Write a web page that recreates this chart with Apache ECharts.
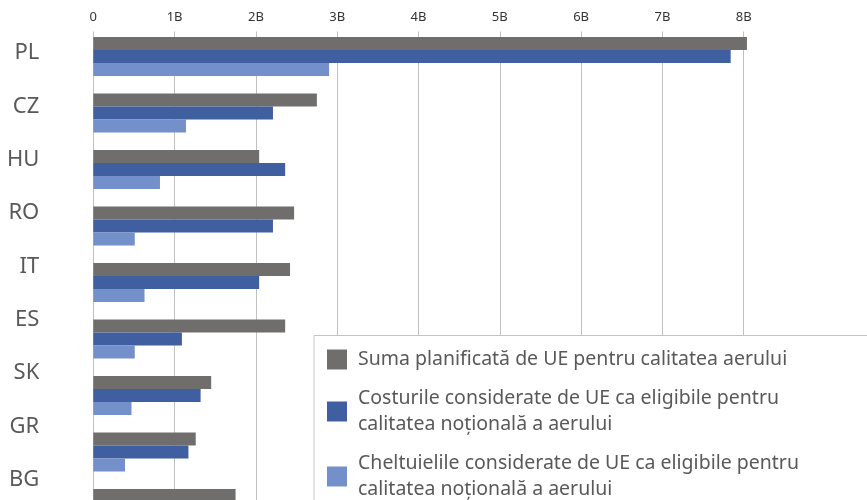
<!DOCTYPE html>
<html>
<head>
<meta charset="utf-8">
<script src="https://cdn.jsdelivr.net/npm/echarts@6/dist/echarts.min.js"></script>
<style>
html, body { margin: 0; padding: 0; background: #fff; }
#chart { width: 867px; height: 500px; }
</style>
</head>
<body>
<div id="chart"></div>
<script>
var countries = ['PL', 'CZ', 'HU', 'RO', 'IT', 'ES', 'SK', 'GR', 'BG'];
var plannedEU = [8.04, 2.75, 2.04, 2.47, 2.42, 2.36, 1.45, 1.26, 1.75];
var eligibleCosts = [7.84, 2.21, 2.36, 2.21, 2.04, 1.09, 1.32, 1.17, 1.30];
var eligibleSpent = [2.90, 1.14, 0.82, 0.51, 0.63, 0.51, 0.47, 0.39, 0.45];
var tickLabels = ['0', '1B', '2B', '3B', '4B', '5B', '6B', '7B', '8B'];
var seriesNames = [
  'Suma planificată de UE pentru calitatea aerului',
  'Costurile considerate de UE ca eligibile pentru\ncalitatea noțională a aerului',
  'Cheltuielile considerate de UE ca eligibile pentru\ncalitatea noțională a aerului'
];
var colors = ['#6f6e6c', '#405fa0', '#7490cb'];

var FONT = 'Noto Sans';
var AXIS_MAX = 8.16;
var plotLeft = 93.3;
var plotWidth = 663.4;

var myChart = echarts.init(document.getElementById('chart'));

var option = {
  animation: false,
  color: colors,
  textStyle: { fontFamily: FONT },
  grid: [
    // bars
    { left: plotLeft, top: 28.25, width: plotWidth, height: 56.5 * countries.length, outerBoundsMode: 'none' },
    // axis frame
    { left: plotLeft, top: 31.5, width: plotWidth, height: 600, outerBoundsMode: 'none' },
    // category labels (spaced a little tighter than the bars, as in the source)
    { left: plotLeft, top: 26.5, width: plotWidth, height: 53.3 * countries.length, outerBoundsMode: 'none' }
  ],
  xAxis: [
    { gridIndex: 0, type: 'value', min: 0, max: AXIS_MAX, show: false },
    {
      gridIndex: 1, type: 'value', position: 'top', min: 0, max: AXIS_MAX, interval: 1,
      axisLine: { show: true, lineStyle: { color: '#bfbfbf', width: 1 } },
      axisTick: { show: false },
      axisLabel: {
        margin: 8, color: '#333', fontSize: 13, fontFamily: FONT,
        showMaxLabel: false,
        formatter: function (v) { return tickLabels[v] || ''; }
      },
      splitLine: { show: true, showMinLine: true, showMaxLine: false, lineStyle: { color: '#c0c0c0', width: 1 } }
    },
    { gridIndex: 2, type: 'value', min: 0, max: 1, show: false }
  ],
  yAxis: [
    {
      gridIndex: 0, type: 'category', inverse: true, data: countries,
      axisLine: { show: false }, axisTick: { show: false }, axisLabel: { show: false }
    },
    { gridIndex: 1, type: 'value', min: 0, max: 1, show: false },
    {
      gridIndex: 2, type: 'category', inverse: true, data: countries,
      axisLine: { show: false }, axisTick: { show: false },
      axisLabel: { margin: 54, color: '#595959', fontSize: 22, fontFamily: FONT }
    }
  ],
  legend: {
    orient: 'vertical',
    left: 314,
    top: 335.5,
    height: 300,
    padding: [11, 140, 40, 13],
    itemGap: 13,
    itemWidth: 20,
    itemHeight: 20,
    icon: 'rect',
    selectedMode: false,
    backgroundColor: '#fff',
    borderColor: '#c4c4c4',
    borderWidth: 1,
    z: 10,
    textStyle: { color: '#595959', fontSize: 19.5, lineHeight: 26, fontFamily: FONT, padding: [0, 0, 0, 6] },
    data: seriesNames
  },
  series: [
    { name: seriesNames[0], type: 'bar', xAxisIndex: 0, yAxisIndex: 0, barWidth: 13, barGap: '0%', data: plannedEU },
    { name: seriesNames[1], type: 'bar', xAxisIndex: 0, yAxisIndex: 0, barWidth: 13, barGap: '0%', data: eligibleCosts },
    { name: seriesNames[2], type: 'bar', xAxisIndex: 0, yAxisIndex: 0, barWidth: 13, barGap: '0%', data: eligibleSpent }
  ]
};

myChart.setOption(option);
</script>
</body>
</html>
